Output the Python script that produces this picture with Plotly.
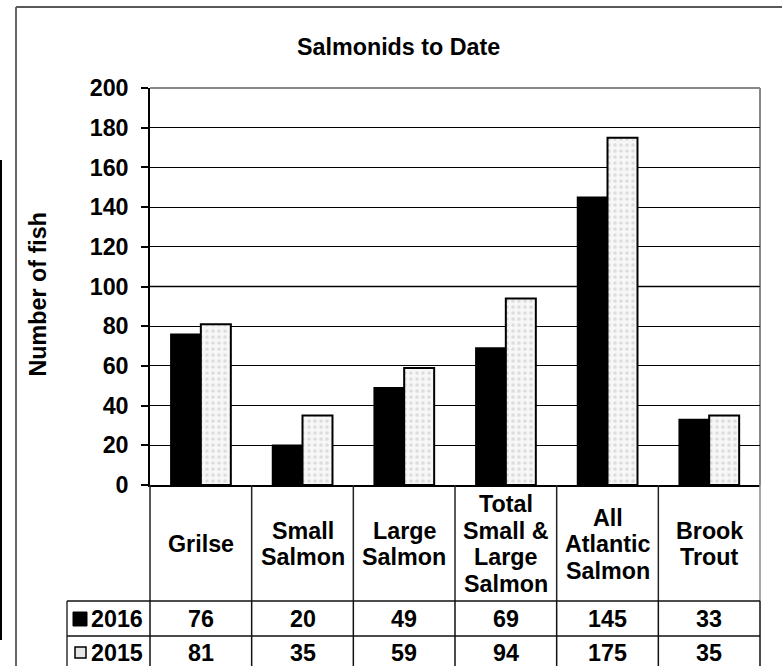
import plotly.graph_objects as go

categories = ["Grilse", "Small Salmon", "Large Salmon", "Total Small & Large Salmon",
              "All Atlantic Salmon", "Brook Trout"]
header_lines = [["Grilse"], ["Small", "Salmon"], ["Large", "Salmon"],
                ["Total", "Small &", "Large", "Salmon"],
                ["All", "Atlantic", "Salmon"], ["Brook", "Trout"]]
values_2016 = [76, 20, 49, 69, 145, 33]
values_2015 = [81, 35, 59, 94, 175, 35]
series_names = ["2016", "2015"]
y_ticks = [0, 20, 40, 60, 80, 100, 120, 140, 160, 180, 200]

FONT = "Liberation Sans, Arial, sans-serif"
FS = 23.3
W, H = 782, 666
L, R, T, B = 150, 22, 88, 181
PW = W - L - R
PH = H - T - B


def px(x):
    return (x - L) / PW


def py(y):
    return (T + PH - y) / PH


fig = go.Figure()
fig.add_trace(go.Bar(
    x=categories, y=values_2016, name=series_names[0],
    marker=dict(color="black", line=dict(color="black", width=1.5)),
))
fig.add_trace(go.Bar(
    x=categories, y=values_2015, name=series_names[1],
    marker=dict(color="#f4f4f4", line=dict(color="black", width=2),
                pattern=dict(shape=".", fgcolor="#c4c4c4", bgcolor="#f7f7f7",
                             size=6, solidity=0.3)),
))

shapes = []
# plot area border (gray top/right) and gray 100 gridline
shapes.append(dict(type="line", xref="paper", yref="paper", x0=0, x1=1, y0=1, y1=1,
                   line=dict(color="#888888", width=2), layer="between"))
shapes.append(dict(type="line", xref="paper", yref="paper", x0=1, x1=1, y0=0, y1=1,
                   line=dict(color="#888888", width=2), layer="between"))
shapes.append(dict(type="line", xref="paper", yref="y", x0=0, x1=1, y0=100, y1=100,
                   line=dict(color="#888888", width=2), layer="between"))

# outer chart border
shapes.append(dict(type="line", xref="paper", yref="paper", x0=px(16), x1=px(800), y0=py(7), y1=py(7),
                   line=dict(color="#222222", width=1.5)))
shapes.append(dict(type="line", xref="paper", yref="paper", x0=px(16), x1=px(16), y0=py(7), y1=py(700),
                   line=dict(color="#666666", width=2)))
# stray left line
shapes.append(dict(type="line", xref="paper", yref="paper", x0=px(1), x1=px(1), y0=py(160), y1=py(640),
                   line=dict(color="black", width=2)))

# data table
n = len(categories)
row_top = 485
row1 = 601
row2 = 636
row_bot = 700
for k in range(n + 1):
    xk = k / n
    col = "#888888" if k == n else "#222222"
    shapes.append(dict(type="line", xref="paper", yref="paper", x0=xk, x1=xk, y0=py(row_top), y1=py(row1),
                       line=dict(color=col, width=1.5)))
    shapes.append(dict(type="line", xref="paper", yref="paper", x0=xk, x1=xk, y0=py(row1), y1=py(row_bot),
                       line=dict(color="#111111", width=1.5)))
shapes.append(dict(type="line", xref="paper", yref="paper", x0=px(67), x1=px(67), y0=py(row1), y1=py(row_bot),
                   line=dict(color="#333333", width=1.5)))
for yy in (row1, row2):
    shapes.append(dict(type="line", xref="paper", yref="paper", x0=px(67), x1=1, y0=py(yy), y1=py(yy),
                       line=dict(color="#111111", width=1.5)))
# legend keys
shapes.append(dict(type="rect", xref="paper", yref="paper", x0=px(73), x1=px(87), y0=py(612), y1=py(626),
                   fillcolor="black", line=dict(color="black", width=1)))
shapes.append(dict(type="rect", xref="paper", yref="paper", x0=px(75), x1=px(86), y0=py(647), y1=py(658),
                   fillcolor="#e6e6e6", line=dict(color="black", width=1.5)))

fnt = dict(family=FONT, size=FS, color="black", weight=700)
annotations = []
annotations.append(dict(text="Salmonids to Date", xref="paper", yref="paper", x=px(398), y=py(47),
                        xanchor="center", yanchor="middle", showarrow=False, font=fnt))
annotations.append(dict(text="Number of fish", xref="paper", yref="paper", x=px(37.5), y=py(295),
                        xanchor="center", yanchor="middle", textangle=-90, showarrow=False, font=fnt))
LINE = 26.5
for cat, lines, v16, v15 in zip(categories, header_lines, values_2016, values_2015):
    m = len(lines)
    for i, ln in enumerate(lines):
        yc = 544 + (i - (m - 1) / 2) * LINE
        annotations.append(dict(text=ln, xref="x", yref="paper", x=cat, y=py(yc),
                                xanchor="center", yanchor="middle", showarrow=False, font=fnt))
    annotations.append(dict(text=str(v16), xref="x", yref="paper", x=cat, y=py(619),
                            xanchor="center", yanchor="middle", showarrow=False, font=fnt))
    annotations.append(dict(text=str(v15), xref="x", yref="paper", x=cat, y=py(653),
                            xanchor="center", yanchor="middle", showarrow=False, font=fnt))
for name, yy in zip(series_names, (619, 653)):
    annotations.append(dict(text=name, xref="paper", yref="paper", x=px(89), y=py(yy),
                            xanchor="left", yanchor="middle", showarrow=False, font=fnt))

fig.update_layout(
    width=W, height=H, autosize=False,
    margin=dict(l=L, r=R, t=T, b=B, pad=0),
    paper_bgcolor="white", plot_bgcolor="white",
    barmode="group", bargap=0.41, bargroupgap=0,
    showlegend=False,
    font=dict(family=FONT, size=FS, color="black"),
    shapes=shapes, annotations=annotations,
)
fig.update_xaxes(range=[-0.5, n - 0.5], showticklabels=False, ticks="",
                 showline=True, linecolor="black", linewidth=1.5, showgrid=False, zeroline=False)
fig.update_yaxes(range=[0, 200], tickvals=y_ticks, ticktext=[str(t) for t in y_ticks],
                 tickfont=fnt, ticks="outside", ticklen=7, tickcolor="black", tickwidth=1.5,
                 ticklabelstandoff=8,
                 showline=True, linecolor="black", linewidth=1.5,
                 showgrid=True, gridcolor="black", gridwidth=1, zeroline=False)

fig.write_html("out.html", config={"displayModeBar": False},
               post_script="document.body.style.margin='0';document.body.style.overflow='hidden';")
